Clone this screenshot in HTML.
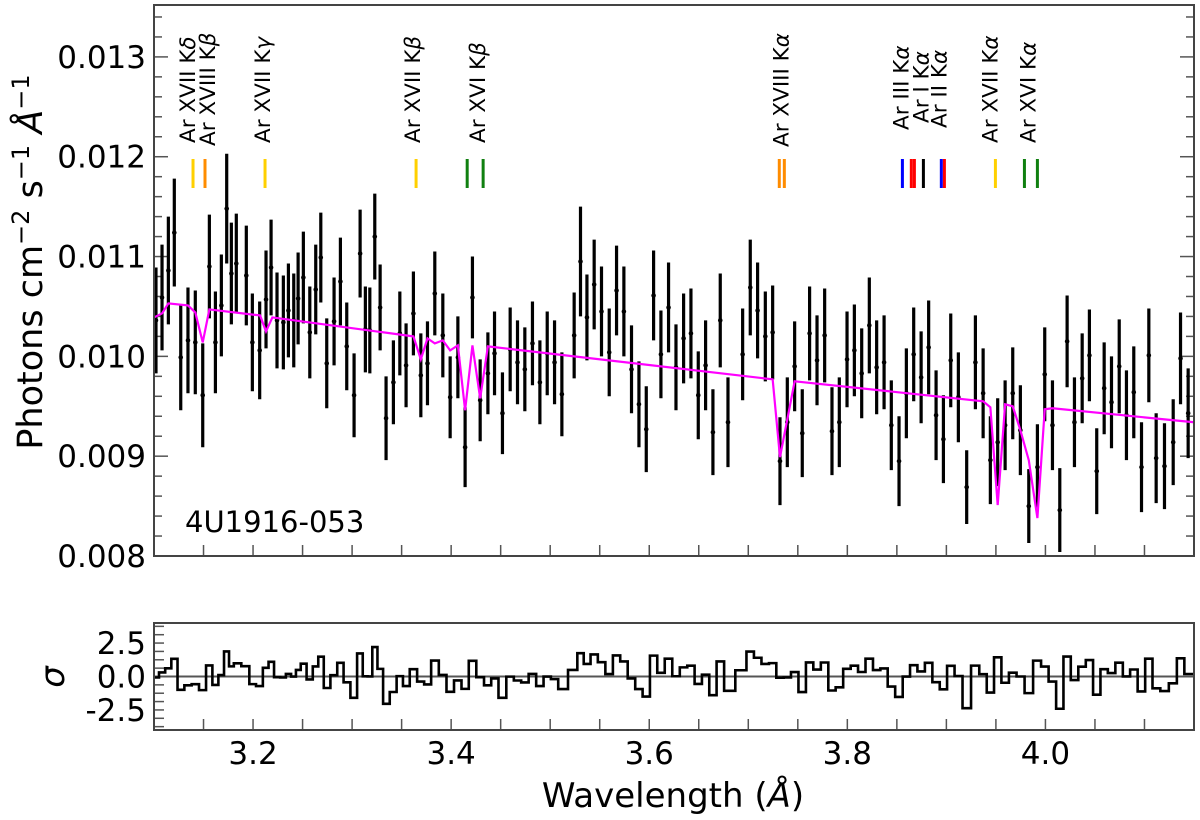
<!DOCTYPE html>
<html><head><meta charset="utf-8">
<style>
html,body{margin:0;padding:0;background:#fff;}
svg{display:block;font-family:"DejaVu Sans","Liberation Sans",sans-serif;}
</style></head>
<body>
<svg id="chart" width="1200" height="820" viewBox="0 0 1200 820" xmlns="http://www.w3.org/2000/svg">
<g id="main"></g>
<g id="resid"></g>
<text x="0" y="0" transform="translate(42,262) rotate(-90)" text-anchor="middle" font-size="35">Photons cm<tspan dy="-13" font-size="24">−2</tspan><tspan dy="13"> s</tspan><tspan dy="-13" font-size="24">−1</tspan><tspan dy="13" font-style="italic"> Å</tspan><tspan dy="-13" font-size="24">−1</tspan></text>
<text transform="translate(64,677) rotate(-90)" text-anchor="middle" font-size="34" font-style="italic">σ</text>
<text x="673" y="807" text-anchor="middle" font-size="34">Wavelength (<tspan font-style="italic">Å</tspan>)</text>
<text x="185" y="532" font-size="29">4U1916-053</text>
</svg>
<script>
// ---- data ----
const wavelengths = [3.1020,3.1081,3.1145,3.1205,3.1270,3.1343,3.1417,3.1492,3.1559,3.1620,3.1680,3.1734,3.1781,3.1831,3.1932,3.1993,3.2067,3.2131,3.2182,3.2242,3.2306,3.2357,3.2411,3.2455,3.2508,3.2573,3.2633,3.2684,3.2744,3.2818,3.2882,3.2946,3.3020,3.3081,3.3134,3.3179,3.3229,3.3283,3.3343,3.3417,3.3482,3.3545,3.3619,3.3694,3.3761,3.3835,3.3916,3.3990,3.4068,3.4141,3.4215,3.4293,3.4371,3.4438,3.4518,3.4596,3.4670,3.4744,3.4821,3.4896,3.4970,3.5044,3.5118,3.5242,3.5306,3.5371,3.5444,3.5518,3.5596,3.5670,3.5744,3.5821,3.5896,3.5970,3.6044,3.6118,3.6195,3.6270,3.6347,3.6421,3.6495,3.6569,3.6643,3.6717,3.6795,3.6943,3.7020,3.7094,3.7172,3.7246,3.7320,3.7394,3.7468,3.7545,3.7619,3.7694,3.7771,3.7845,3.7919,3.7997,3.8071,3.8145,3.8222,3.8296,3.8371,3.8444,3.8522,3.8596,3.8670,3.8745,3.8821,3.8896,3.8970,3.9044,3.9121,3.9205,3.9293,3.9371,3.9444,3.9518,3.9593,3.9670,3.9747,3.9832,3.9919,3.9993,4.0071,4.0145,4.0219,4.0293,4.0371,4.0444,4.0518,4.0593,4.0667,4.0745,4.0818,4.0892,4.0970,4.1044,4.1118,4.1202,4.1290,4.1364,4.1441];
const fluxes = [0.01036,0.01059,0.01086,0.01124,0.00999,0.01016,0.01014,0.00961,0.01090,0.01014,0.01051,0.01148,0.01083,0.01093,0.01081,0.01014,0.01006,0.01057,0.01089,0.01036,0.01034,0.01046,0.01036,0.01058,0.01079,0.01024,0.01067,0.01099,0.00993,0.01035,0.01075,0.01010,0.00961,0.01103,0.01027,0.01026,0.01120,0.01049,0.00938,0.00974,0.01023,0.00991,0.01043,0.00981,0.00993,0.01063,0.01021,0.00959,0.00999,0.00909,0.01059,0.00956,0.00983,0.01003,0.00943,0.01007,0.00994,0.00987,0.01013,0.00974,0.01003,0.00994,0.00962,0.01021,0.01095,0.01039,0.01072,0.01045,0.01004,0.01066,0.01045,0.00987,0.00952,0.00927,0.01061,0.01002,0.01049,0.00989,0.01018,0.01023,0.00961,0.00991,0.00924,0.01036,0.00934,0.01002,0.01069,0.01046,0.01020,0.01024,0.00895,0.00934,0.00990,0.00923,0.01023,0.00996,0.01021,0.00925,0.00934,0.00997,0.01006,0.00983,0.01031,0.00989,0.00994,0.00931,0.00895,0.00963,0.01002,0.00979,0.01009,0.00941,0.00917,0.00996,0.00959,0.00869,0.00994,0.00963,0.00896,0.00914,0.00931,0.00963,0.00926,0.00850,0.00889,0.00982,0.00931,0.00846,0.01015,0.00934,0.00978,0.01001,0.00885,0.00968,0.00954,0.00990,0.00941,0.00964,0.00889,0.01001,0.00898,0.00890,0.00914,0.00998,0.00943];
const errors = [0.00053,0.00053,0.00054,0.00054,0.00053,0.00053,0.00052,0.00052,0.00052,0.00051,0.00051,0.00055,0.00051,0.00050,0.00050,0.00049,0.00049,0.00049,0.00048,0.00048,0.00047,0.00047,0.00047,0.00046,0.00046,0.00046,0.00045,0.00045,0.00045,0.00044,0.00044,0.00044,0.00042,0.00044,0.00043,0.00043,0.00043,0.00043,0.00042,0.00042,0.00042,0.00042,0.00042,0.00042,0.00042,0.00042,0.00042,0.00041,0.00041,0.00040,0.00041,0.00041,0.00041,0.00042,0.00041,0.00042,0.00042,0.00042,0.00042,0.00042,0.00042,0.00042,0.00042,0.00043,0.00055,0.00043,0.00045,0.00045,0.00044,0.00045,0.00045,0.00044,0.00043,0.00043,0.00045,0.00044,0.00045,0.00043,0.00045,0.00045,0.00044,0.00045,0.00043,0.00047,0.00045,0.00046,0.00048,0.00048,0.00045,0.00047,0.00044,0.00045,0.00045,0.00044,0.00047,0.00045,0.00047,0.00044,0.00045,0.00048,0.00046,0.00045,0.00048,0.00047,0.00047,0.00045,0.00045,0.00045,0.00047,0.00046,0.00047,0.00045,0.00044,0.00047,0.00045,0.00037,0.00047,0.00045,0.00044,0.00044,0.00045,0.00046,0.00045,0.00037,0.00043,0.00047,0.00045,0.00042,0.00046,0.00045,0.00045,0.00046,0.00043,0.00046,0.00046,0.00047,0.00045,0.00046,0.00045,0.00047,0.00045,0.00043,0.00043,0.00046,0.00045];
const modelWl = [3.100,3.1081,3.1145,3.1343,3.1417,3.1492,3.1559,3.2071,3.2131,3.2195,3.3619,3.3694,3.3761,3.3835,3.3916,3.3990,3.4068,3.4141,3.4215,3.4293,3.4371,3.7246,3.7320,3.7468,3.9371,3.9444,3.9518,3.9593,3.9670,3.9747,3.9832,3.9919,3.9993,4.0071,4.1500];
const modelFlux = [0.01039,0.01043,0.01053,0.01051,0.01044,0.01014,0.01047,0.01041,0.01025,0.01039,0.01020,0.00997,0.01018,0.01013,0.01016,0.01006,0.01011,0.00946,0.01011,0.00958,0.01010,0.00977,0.00899,0.00975,0.00955,0.00949,0.00851,0.00952,0.00950,0.00926,0.00896,0.00838,0.00947,0.00948,0.00934];
const lineWl = [3.1394,3.1515,3.2121,3.3646,3.4162,3.4323,3.7313,3.7364,3.8556,3.8646,3.8677,3.8768,3.8949,3.8980,3.9495,3.9788,3.9919];
const lineColor = ["#ffd000","#ff8c00","#ffd000","#ffd000","#108010","#108010","#ff8c00","#ff8c00","#0000ff","#ff0000","#ff0000","#000000","#0000ff","#ff0000","#ffd000","#108010","#108010"];
const labelText = ["Ar XVII K<tspan font-style='italic'>δ</tspan>","Ar XVIII K<tspan font-style='italic'>β</tspan>","Ar XVII K<tspan font-style='italic'>γ</tspan>","Ar XVII K<tspan font-style='italic'>β</tspan>","Ar XVI K<tspan font-style='italic'>β</tspan>","Ar XVIII K<tspan font-style='italic'>α</tspan>","Ar III K<tspan font-style='italic'>α</tspan>","Ar I K<tspan font-style='italic'>α</tspan>","Ar II K<tspan font-style='italic'>α</tspan>","Ar XVII K<tspan font-style='italic'>α</tspan>","Ar XVI K<tspan font-style='italic'>α</tspan>"];
const labelWl = [3.1343,3.1545,3.2101,3.3616,3.4273,3.7333,3.8547,3.8747,3.8929,3.9444,3.9828];
const yTickLabels = ["0.008","0.009","0.010","0.011","0.012","0.013"];
const xTickLabels = ["3.2","3.4","3.6","3.8","4.0"];
const rTickLabels = ["-2.5","0.0","2.5"];

// ---- layout ----
const X0=154, X1=1194, XMIN=3.1, XMAX=4.15;
const Y0=556, Y1=5, YMIN=0.008, YMAX=0.01352;
const RT=623, RB=730, RMIN=-4.0, RMAX=4.0;
const sx = v => X0 + (v-XMIN)/(XMAX-XMIN)*(X1-X0);
const sy = v => Y0 - (v-YMIN)/(YMAX-YMIN)*(Y0-Y1);
const sr = v => RB - (Math.max(RMIN,Math.min(RMAX,v))-RMIN)/(RMAX-RMIN)*(RB-RT);
const NS="http://www.w3.org/2000/svg";
function mk(parent,tag,attrs){const e=document.createElementNS(NS,tag);for(const k in attrs)e.setAttribute(k,attrs[k]);parent.appendChild(e);return e;}
function modelAt(w){
  if(w<=modelWl[0])return modelFlux[0];
  for(let i=1;i<modelWl.length;i++){ if(w<=modelWl[i]){const t=(w-modelWl[i-1])/(modelWl[i]-modelWl[i-1]);return modelFlux[i-1]+t*(modelFlux[i]-modelFlux[i-1]);} }
  return modelFlux[modelFlux.length-1];
}
const main=document.getElementById('main'), resid=document.getElementById('resid');

// main ticks
for(let k=0;k<=27;k++){
  const v=0.008+k*0.0002, y=sy(v), major=(k%5===0), len=major?14:8;
  const t=mk(main,'line',{x1:X0,x2:X0+len,y1:y,y2:y,stroke:'#555','stroke-width':1.5});
  
  
  const t2=mk(main,'line',{x1:X1,x2:X1-len,y1:y,y2:y,stroke:'#555','stroke-width':1.5});
  
  
}
yTickLabels.forEach((s,i)=>{
  const v=parseFloat(s);
  const t=mk(main,'text',{x:X0-8,y:sy(v)+11,'text-anchor':'end','font-size':31});
  t.textContent=s;
  
  
});
for(let k=0;k<=21;k++){
  const v=3.1+k*0.05, x=sx(v);
  const t=mk(main,'line',{x1:x,x2:x,y1:Y0,y2:Y0-11,stroke:'#555','stroke-width':1.5});
  
  
  const r=mk(resid,'line',{x1:x,x2:x,y1:RB,y2:RB-11,stroke:'#555','stroke-width':1.5});
  
  
}
xTickLabels.forEach(s=>{
  const t=mk(resid,'text',{x:sx(parseFloat(s)),y:764,'text-anchor':'middle','font-size':31});
  t.textContent=s;
  
  
});
for(let k=-6;k<=6;k++){
  const v=k*0.625, y=sr(v);
  const t=mk(resid,'line',{x1:X0,x2:X0+10,y1:y,y2:y,stroke:'#555','stroke-width':1.5});
  
  
}
rTickLabels.forEach(s=>{
  const t=mk(resid,'text',{x:X0-8,y:sr(parseFloat(s))+11,'text-anchor':'end','font-size':31});
  t.textContent=s;
  
  
});

// line markers
lineWl.forEach((w,i)=>{
  const m=mk(main,'line',{x1:sx(w),x2:sx(w),y1:159,y2:188,stroke:lineColor[i],'stroke-width':3});
  
  
});
const labelBottom=[143,146,143,143,143,147,130,123,128,143,143];
labelText.forEach((s,i)=>{
  const x=sx(labelWl[i]);
  const t=mk(main,'text',{x:0,y:0,transform:`translate(${x+7},${labelBottom[i]}) rotate(-90)`,'font-size':21.5});
  t.innerHTML=s;
  
  
});

// data points
wavelengths.forEach((w,i)=>{
  const x=sx(w);
  const b=mk(main,'line',{x1:x,x2:x,y1:Math.max(Y1,sy(fluxes[i]+errors[i])),y2:Math.min(Y0,sy(fluxes[i]-errors[i])),stroke:'#000','stroke-width':3.2});
  
  
  const c=mk(main,'circle',{cx:x,cy:sy(fluxes[i]),r:2.3,fill:'#000'});
  
  
});
// model
const mp=mk(main,'polyline',{points:modelWl.map((w,i)=>sx(w)+','+sy(modelFlux[i])).join(' '),fill:'none',stroke:'#ff00ff','stroke-width':2.2});


const mf=mk(main,'rect',{x:X0,y:Y1,width:X1-X0,height:Y0-Y1,fill:'none',stroke:'#444','stroke-width':2});



// residuals
const z=mk(resid,'line',{x1:X0,x2:X1,y1:sr(0),y2:sr(0),stroke:'#555','stroke-width':2});


let pts=[];
wavelengths.forEach((w,i)=>{
  const r=(fluxes[i]-modelAt(w))/errors[i];
  const left= i===0? XMIN : (wavelengths[i-1]+w)/2;
  const right= i===wavelengths.length-1? XMAX : (wavelengths[i+1]+w)/2;
  pts.push(sx(left)+','+sr(r)); pts.push(sx(right)+','+sr(r));
});
const rs=mk(resid,'polyline',{points:pts.join(' '),fill:'none',stroke:'#000','stroke-width':2.6});


const rf=mk(resid,'rect',{x:X0,y:RT,width:X1-X0,height:RB-RT,fill:'none',stroke:'#444','stroke-width':2});


</script>
</body></html>
